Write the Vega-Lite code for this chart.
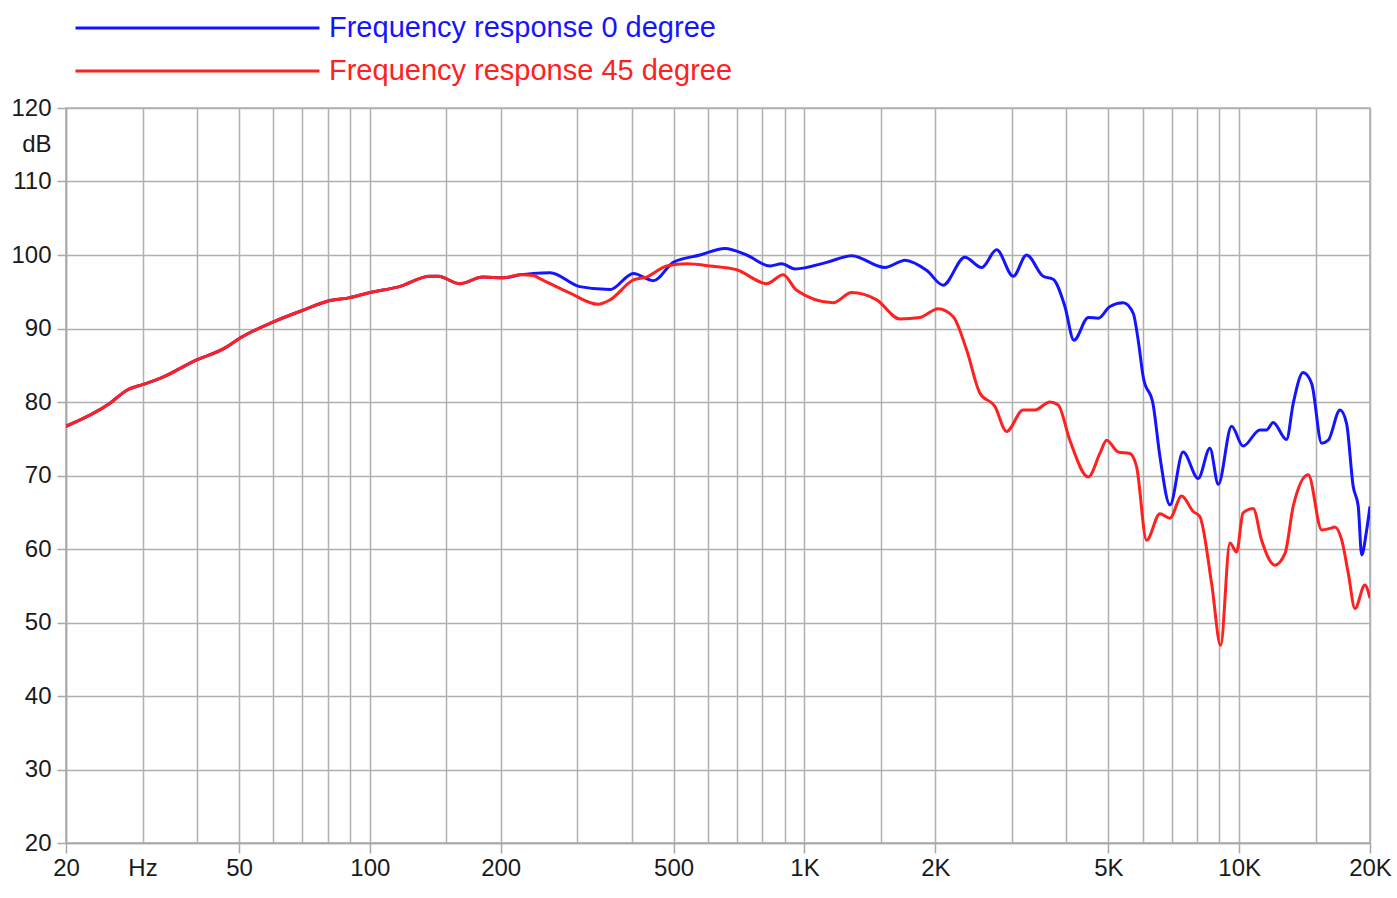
{
  "$schema": "https://vega.github.io/schema/vega-lite/v6.json",
  "width": 1304,
  "height": 735,
  "autosize": "none",
  "padding": {"left": 66, "top": 108, "right": 27, "bottom": 55},
  "background": "white",
  "datasets": {
    "curves": [
      {"f": 20, "db": 76.7, "s": "Frequency response 0 degree"},
      {"f": 25.2, "db": 79.8, "s": "Frequency response 0 degree"},
      {"f": 27.6, "db": 81.6, "s": "Frequency response 0 degree"},
      {"f": 30.1, "db": 82.4, "s": "Frequency response 0 degree"},
      {"f": 32.9, "db": 83.2, "s": "Frequency response 0 degree"},
      {"f": 39.2, "db": 85.5, "s": "Frequency response 0 degree"},
      {"f": 46.9, "db": 87.5, "s": "Frequency response 0 degree"},
      {"f": 50.3, "db": 88.7, "s": "Frequency response 0 degree"},
      {"f": 60, "db": 90.9, "s": "Frequency response 0 degree"},
      {"f": 70.3, "db": 92.5, "s": "Frequency response 0 degree"},
      {"f": 81, "db": 93.8, "s": "Frequency response 0 degree"},
      {"f": 90, "db": 94.2, "s": "Frequency response 0 degree"},
      {"f": 100, "db": 94.9, "s": "Frequency response 0 degree"},
      {"f": 117, "db": 95.7, "s": "Frequency response 0 degree"},
      {"f": 137.5, "db": 97.1, "s": "Frequency response 0 degree"},
      {"f": 143.7, "db": 97.1, "s": "Frequency response 0 degree"},
      {"f": 161, "db": 96.1, "s": "Frequency response 0 degree"},
      {"f": 182, "db": 97.0, "s": "Frequency response 0 degree"},
      {"f": 203, "db": 96.9, "s": "Frequency response 0 degree"},
      {"f": 221.6, "db": 97.3, "s": "Frequency response 0 degree"},
      {"f": 238, "db": 97.5, "s": "Frequency response 0 degree"},
      {"f": 260, "db": 97.6, "s": "Frequency response 0 degree"},
      {"f": 304, "db": 95.7, "s": "Frequency response 0 degree"},
      {"f": 357, "db": 95.3, "s": "Frequency response 0 degree"},
      {"f": 404, "db": 97.5, "s": "Frequency response 0 degree"},
      {"f": 449, "db": 96.5, "s": "Frequency response 0 degree"},
      {"f": 499, "db": 99.0, "s": "Frequency response 0 degree"},
      {"f": 575, "db": 100.0, "s": "Frequency response 0 degree"},
      {"f": 656, "db": 100.9, "s": "Frequency response 0 degree"},
      {"f": 736, "db": 100.0, "s": "Frequency response 0 degree"},
      {"f": 833, "db": 98.5, "s": "Frequency response 0 degree"},
      {"f": 886, "db": 98.8, "s": "Frequency response 0 degree"},
      {"f": 951, "db": 98.1, "s": "Frequency response 0 degree"},
      {"f": 1125, "db": 99.0, "s": "Frequency response 0 degree"},
      {"f": 1284, "db": 99.9, "s": "Frequency response 0 degree"},
      {"f": 1531, "db": 98.3, "s": "Frequency response 0 degree"},
      {"f": 1658, "db": 99.1, "s": "Frequency response 0 degree"},
      {"f": 1702, "db": 99.3, "s": "Frequency response 0 degree"},
      {"f": 1912, "db": 97.9, "s": "Frequency response 0 degree"},
      {"f": 2084, "db": 95.9, "s": "Frequency response 0 degree"},
      {"f": 2339, "db": 99.7, "s": "Frequency response 0 degree"},
      {"f": 2556, "db": 98.3, "s": "Frequency response 0 degree"},
      {"f": 2767, "db": 100.7, "s": "Frequency response 0 degree"},
      {"f": 3022, "db": 97.1, "s": "Frequency response 0 degree"},
      {"f": 3243, "db": 100.0, "s": "Frequency response 0 degree"},
      {"f": 3542, "db": 97.1, "s": "Frequency response 0 degree"},
      {"f": 3734, "db": 96.7, "s": "Frequency response 0 degree"},
      {"f": 3973, "db": 93.0, "s": "Frequency response 0 degree"},
      {"f": 4167, "db": 88.4, "s": "Frequency response 0 degree"},
      {"f": 4498, "db": 91.5, "s": "Frequency response 0 degree"},
      {"f": 4742, "db": 91.4, "s": "Frequency response 0 degree"},
      {"f": 5044, "db": 93.0, "s": "Frequency response 0 degree"},
      {"f": 5409, "db": 93.5, "s": "Frequency response 0 degree"},
      {"f": 5704, "db": 92.1, "s": "Frequency response 0 degree"},
      {"f": 5858, "db": 88.4, "s": "Frequency response 0 degree"},
      {"f": 6016, "db": 83.4, "s": "Frequency response 0 degree"},
      {"f": 6343, "db": 79.6, "s": "Frequency response 0 degree"},
      {"f": 6572, "db": 72.6, "s": "Frequency response 0 degree"},
      {"f": 6932, "db": 66.0, "s": "Frequency response 0 degree"},
      {"f": 7430, "db": 73.2, "s": "Frequency response 0 degree"},
      {"f": 8050, "db": 69.6, "s": "Frequency response 0 degree"},
      {"f": 8565, "db": 73.7, "s": "Frequency response 0 degree"},
      {"f": 8954, "db": 68.8, "s": "Frequency response 0 degree"},
      {"f": 9608, "db": 76.7, "s": "Frequency response 0 degree"},
      {"f": 10210, "db": 74.0, "s": "Frequency response 0 degree"},
      {"f": 11163, "db": 76.2, "s": "Frequency response 0 degree"},
      {"f": 11563, "db": 76.2, "s": "Frequency response 0 degree"},
      {"f": 11970, "db": 77.2, "s": "Frequency response 0 degree"},
      {"f": 12853, "db": 74.9, "s": "Frequency response 0 degree"},
      {"f": 13316, "db": 79.8, "s": "Frequency response 0 degree"},
      {"f": 14030, "db": 84.0, "s": "Frequency response 0 degree"},
      {"f": 14684, "db": 82.5, "s": "Frequency response 0 degree"},
      {"f": 15484, "db": 74.4, "s": "Frequency response 0 degree"},
      {"f": 16032, "db": 74.8, "s": "Frequency response 0 degree"},
      {"f": 17062, "db": 78.9, "s": "Frequency response 0 degree"},
      {"f": 17662, "db": 77.1, "s": "Frequency response 0 degree"},
      {"f": 18298, "db": 68.5, "s": "Frequency response 0 degree"},
      {"f": 18793, "db": 65.8, "s": "Frequency response 0 degree"},
      {"f": 19136, "db": 59.2, "s": "Frequency response 0 degree"},
      {"f": 19650, "db": 62.6, "s": "Frequency response 0 degree"},
      {"f": 20000, "db": 65.8, "s": "Frequency response 0 degree"},

      {"f": 20, "db": 76.7, "s": "Frequency response 45 degree"},
      {"f": 25.2, "db": 79.8, "s": "Frequency response 45 degree"},
      {"f": 27.6, "db": 81.6, "s": "Frequency response 45 degree"},
      {"f": 30.1, "db": 82.4, "s": "Frequency response 45 degree"},
      {"f": 32.9, "db": 83.2, "s": "Frequency response 45 degree"},
      {"f": 39.2, "db": 85.5, "s": "Frequency response 45 degree"},
      {"f": 46.9, "db": 87.5, "s": "Frequency response 45 degree"},
      {"f": 50.3, "db": 88.7, "s": "Frequency response 45 degree"},
      {"f": 60, "db": 90.9, "s": "Frequency response 45 degree"},
      {"f": 70.3, "db": 92.5, "s": "Frequency response 45 degree"},
      {"f": 81, "db": 93.8, "s": "Frequency response 45 degree"},
      {"f": 90, "db": 94.2, "s": "Frequency response 45 degree"},
      {"f": 100, "db": 94.9, "s": "Frequency response 45 degree"},
      {"f": 117, "db": 95.7, "s": "Frequency response 45 degree"},
      {"f": 137.5, "db": 97.1, "s": "Frequency response 45 degree"},
      {"f": 143.7, "db": 97.1, "s": "Frequency response 45 degree"},
      {"f": 161, "db": 96.1, "s": "Frequency response 45 degree"},
      {"f": 182, "db": 97.0, "s": "Frequency response 45 degree"},
      {"f": 203, "db": 96.9, "s": "Frequency response 45 degree"},
      {"f": 221.6, "db": 97.3, "s": "Frequency response 45 degree"},
      {"f": 238, "db": 97.2, "s": "Frequency response 45 degree"},
      {"f": 246, "db": 96.8, "s": "Frequency response 45 degree"},
      {"f": 289, "db": 94.8, "s": "Frequency response 45 degree"},
      {"f": 335, "db": 93.3, "s": "Frequency response 45 degree"},
      {"f": 357, "db": 93.9, "s": "Frequency response 45 degree"},
      {"f": 404, "db": 96.6, "s": "Frequency response 45 degree"},
      {"f": 433, "db": 97.0, "s": "Frequency response 45 degree"},
      {"f": 482, "db": 98.5, "s": "Frequency response 45 degree"},
      {"f": 536, "db": 98.8, "s": "Frequency response 45 degree"},
      {"f": 606, "db": 98.5, "s": "Frequency response 45 degree"},
      {"f": 698, "db": 98.0, "s": "Frequency response 45 degree"},
      {"f": 819, "db": 96.1, "s": "Frequency response 45 degree"},
      {"f": 893, "db": 97.3, "s": "Frequency response 45 degree"},
      {"f": 959, "db": 95.2, "s": "Frequency response 45 degree"},
      {"f": 1164, "db": 93.5, "s": "Frequency response 45 degree"},
      {"f": 1284, "db": 94.9, "s": "Frequency response 45 degree"},
      {"f": 1466, "db": 93.9, "s": "Frequency response 45 degree"},
      {"f": 1658, "db": 91.3, "s": "Frequency response 45 degree"},
      {"f": 1844, "db": 91.5, "s": "Frequency response 45 degree"},
      {"f": 2031, "db": 92.7, "s": "Frequency response 45 degree"},
      {"f": 2199, "db": 91.6, "s": "Frequency response 45 degree"},
      {"f": 2360, "db": 87.1, "s": "Frequency response 45 degree"},
      {"f": 2533, "db": 81.2, "s": "Frequency response 45 degree"},
      {"f": 2742, "db": 79.4, "s": "Frequency response 45 degree"},
      {"f": 2917, "db": 76.0, "s": "Frequency response 45 degree"},
      {"f": 3184, "db": 78.9, "s": "Frequency response 45 degree"},
      {"f": 3388, "db": 78.9, "s": "Frequency response 45 degree"},
      {"f": 3670, "db": 80.0, "s": "Frequency response 45 degree"},
      {"f": 3834, "db": 79.6, "s": "Frequency response 45 degree"},
      {"f": 4078, "db": 74.8, "s": "Frequency response 45 degree"},
      {"f": 4498, "db": 69.8, "s": "Frequency response 45 degree"},
      {"f": 4782, "db": 73.0, "s": "Frequency response 45 degree"},
      {"f": 4955, "db": 74.8, "s": "Frequency response 45 degree"},
      {"f": 5268, "db": 73.2, "s": "Frequency response 45 degree"},
      {"f": 5604, "db": 73.0, "s": "Frequency response 45 degree"},
      {"f": 5808, "db": 71.2, "s": "Frequency response 45 degree"},
      {"f": 6124, "db": 61.2, "s": "Frequency response 45 degree"},
      {"f": 6572, "db": 64.8, "s": "Frequency response 45 degree"},
      {"f": 6932, "db": 64.2, "s": "Frequency response 45 degree"},
      {"f": 7372, "db": 67.2, "s": "Frequency response 45 degree"},
      {"f": 7840, "db": 65.1, "s": "Frequency response 45 degree"},
      {"f": 8120, "db": 64.4, "s": "Frequency response 45 degree"},
      {"f": 8644, "db": 55.3, "s": "Frequency response 45 degree"},
      {"f": 9066, "db": 46.9, "s": "Frequency response 45 degree"},
      {"f": 9522, "db": 60.8, "s": "Frequency response 45 degree"},
      {"f": 9866, "db": 59.6, "s": "Frequency response 45 degree"},
      {"f": 10210, "db": 64.9, "s": "Frequency response 45 degree"},
      {"f": 10772, "db": 65.5, "s": "Frequency response 45 degree"},
      {"f": 11262, "db": 61.2, "s": "Frequency response 45 degree"},
      {"f": 12080, "db": 57.8, "s": "Frequency response 45 degree"},
      {"f": 12750, "db": 59.4, "s": "Frequency response 45 degree"},
      {"f": 13316, "db": 65.8, "s": "Frequency response 45 degree"},
      {"f": 14421, "db": 70.1, "s": "Frequency response 45 degree"},
      {"f": 15484, "db": 62.6, "s": "Frequency response 45 degree"},
      {"f": 16172, "db": 62.8, "s": "Frequency response 45 degree"},
      {"f": 16600, "db": 63.0, "s": "Frequency response 45 degree"},
      {"f": 17220, "db": 61.2, "s": "Frequency response 45 degree"},
      {"f": 17826, "db": 56.7, "s": "Frequency response 45 degree"},
      {"f": 18472, "db": 51.9, "s": "Frequency response 45 degree"},
      {"f": 19460, "db": 55.1, "s": "Frequency response 45 degree"},
      {"f": 20000, "db": 53.3, "s": "Frequency response 45 degree"}
    ]
  },
  "data": {"name": "curves"},
  "mark": {"type": "line", "strokeWidth": 3, "interpolate": "monotone", "clip": true},
  "encoding": {
    "x": {
      "field": "f",
      "type": "quantitative",
      "scale": {"type": "log", "domain": [20, 20000], "nice": false},
      "axis": {
        "title": null,
        "values": [20, 30, 40, 50, 60, 70, 80, 90, 100, 150, 200, 300, 400, 500, 600, 700, 800, 900, 1000, 1500, 2000, 3000, 4000, 5000, 6000, 7000, 8000, 9000, 10000, 15000, 20000],
        "format": "d",
        "labelExpr": "datum.value == 30 ? 'Hz' : datum.value == 1000 ? '1K' : datum.value == 2000 ? '2K' : datum.value == 5000 ? '5K' : datum.value == 10000 ? '10K' : datum.value == 20000 ? '20K' : indexof([20, 50, 100, 200, 500], datum.value) >= 0 ? datum.label : ''",
        "labelOverlap": false,
        "labelFlush": false,
        "labelPadding": 3,
        "tickSize": 10,
        "tickOpacity": {"condition": {"test": "indexof([20, 50, 100, 200, 500, 1000, 2000, 5000, 10000, 20000], datum.value) >= 0", "value": 1}, "value": 0}
      }
    },
    "y": {
      "field": "db",
      "type": "quantitative",
      "scale": {"domain": [20, 120], "nice": false},
      "axis": {
        "title": null,
        "values": [20, 30, 40, 50, 60, 70, 80, 90, 100, 110, 115, 120],
        "labelExpr": "datum.value == 115 ? 'dB' : datum.label",
        "labelOverlap": false,
        "labelPadding": 6,
        "tickSize": 9,
        "tickOpacity": {"condition": {"test": "datum.value == 115", "value": 0}, "value": 1},
        "gridOpacity": {"condition": {"test": "datum.value == 115", "value": 0}, "value": 1}
      }
    },
    "color": {
      "field": "s",
      "type": "nominal",
      "scale": {
        "domain": ["Frequency response 0 degree", "Frequency response 45 degree"],
        "range": ["#1414ff", "#ff2020"]
      },
      "legend": {
        "orient": "none",
        "legendX": 8,
        "legendY": -95,
        "title": null,
        "padding": 0,
        "symbolType": "stroke",
        "symbolSize": 59536,
        "symbolStrokeWidth": 3,
        "clipHeight": 30,
        "rowPadding": 13,
        "labelOffset": 8,
        "labelFont": "Liberation Sans",
        "labelFontSize": 29,
        "labelLimit": 800,
        "encode": {"labels": {"update": {"fill": {"scale": "color", "field": "value"}}}}
      }
    }
  },
  "config": {
    "font": "Liberation Sans",
    "view": {"stroke": "#b0b0b0", "strokeWidth": 1.5},
    "axis": {
      "grid": true,
      "gridColor": "#b0b0b0",
      "gridWidth": 1.5,
      "domainColor": "#a8a8a8",
      "domainWidth": 1.5,
      "tickColor": "#a8a8a8",
      "tickWidth": 1.5,
      "labelFont": "Liberation Sans",
      "labelFontSize": 24,
      "labelColor": "#1a1a1a"
    }
  }
}
